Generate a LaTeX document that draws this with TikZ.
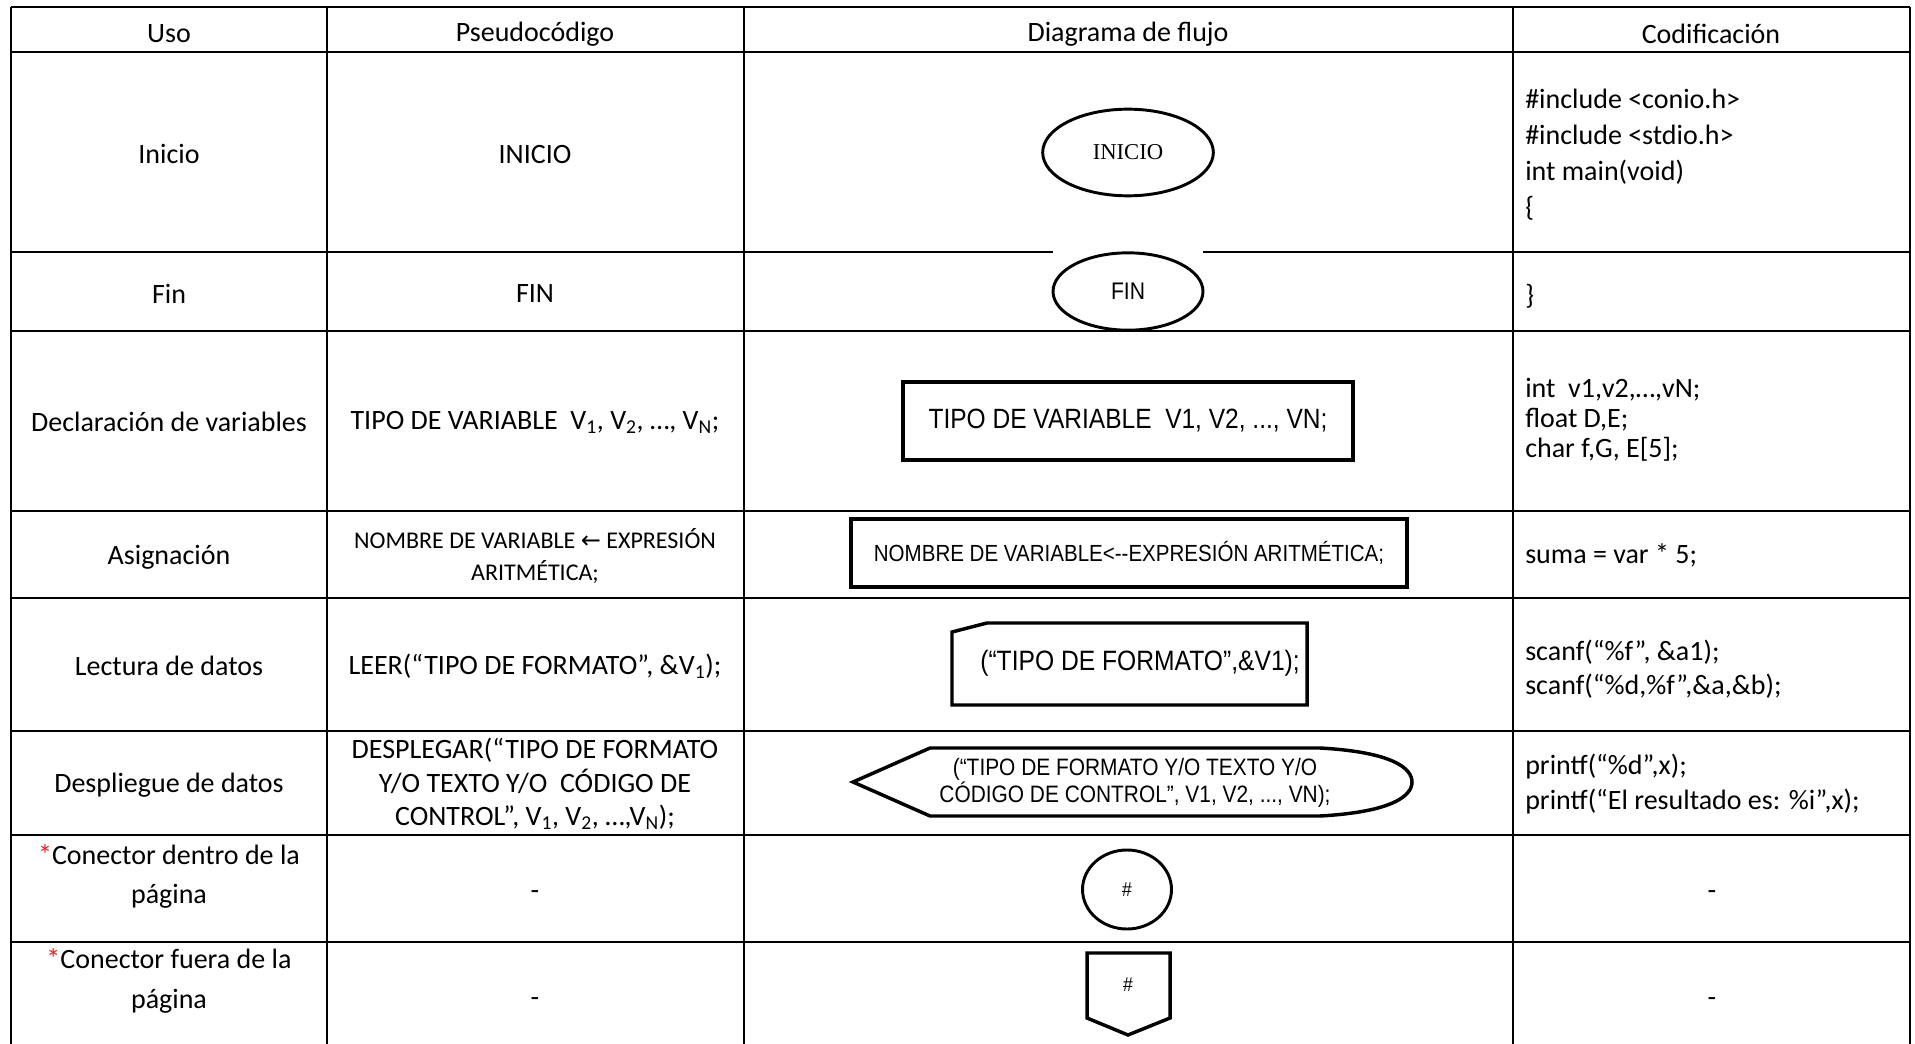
\documentclass[tikz,border=0pt]{standalone}
\usepackage{fontspec}
\setmainfont{Carlito}
\newfontfamily\flowfont[FakeStretch=0.88]{Liberation Sans}
\newfontfamily\flowserif{Liberation Serif}
\newfontfamily\arrowfont{DejaVu Sans}
\usetikzlibrary{shapes, positioning}
\definecolor{astred}{rgb}{0.95, 0.1, 0.1}

\begin{document}
\begin{tikzpicture}[x=0.75pt, y=-0.75pt,
        grid/.style={line width=1.9pt},
        cell/.style={font=\fontsize{21}{#1}\selectfont, align=center, inner sep=0pt},
        cell/.default=25,
        code/.style={cell=#1, align=left, anchor=west},
        code/.default=25,
        flowline/.style={draw, line width=2.6pt},
        flowtxt/.style={align=center, inner sep=0pt}]
    \useasboundingbox (0,0) rectangle (1915,1044);
    % table grid
    \foreach \y in {7, 52, 331, 511, 598, 731, 835, 942}
        \draw[grid] (11,\y) -- (1910,\y);
    \draw[grid] (11,252) -- (1053,252);
    \draw[grid] (1203,252) -- (1910,252);
    \foreach \x in {11, 327, 744, 1513, 1910}
        \draw[grid] (\x,7) -- (\x,1044);

    % header
    \node[cell] (uso) at (169,34) {Uso};
    \node[cell] (pseudo) at (535,34) {Pseudocódigo};
    \node[cell] (diagrama) at (1128,34) {Diagrama de flujo};
    \node[cell] (codif) at (1711,34) {Codificación};

    % column: uso
    \node[cell] (uIni) at (169,154) {Inicio};
    \node[cell] (uFin) at (169,294) {Fin};
    \node[cell] (uDecl) at (169,422) {Declaración de variables};
    \node[cell] (uAsig) at (169,557) {Asignación};
    \node[cell] (uLect) at (169,666) {Lectura de datos};
    \node[cell] (uDesp) at (169,785) {Despliegue de datos};
    \node[cell=29.25] (uConIn) at (169,876) {\textcolor{astred}{*}Conector dentro de la\\página};
    \node[cell=30] (uConOut) at (169,981) {\textcolor{astred}{*}Conector fuera de la\\página};

    % column: pseudocodigo
    \node[cell] (pIni) at (535,155) {INICIO};
    \node[cell] (pFin) at (535,294) {FIN};
    \node[cell] (pDecl) at (535,422) {TIPO DE VARIABLE\ \ V\textsubscript{1}, V\textsubscript{2}, …, V\textsubscript{N};};
    \node[cell, font=\fontsize{18}{23.5}\selectfont] (pAsig) at (535,556) {NOMBRE DE VARIABLE {\arrowfont ←} EXPRESIÓN\\ARITMÉTICA;};
    \node[cell] (pLect) at (535,666) {LEER(“TIPO DE FORMATO”, \&V\textsubscript{1});};
    \node[cell=25.1] (pDesp) at (535,784) {DESPLEGAR(“TIPO DE FORMATO\\Y/O TEXTO Y/O\ \ CÓDIGO DE\\CONTROL”, V\textsubscript{1}, V\textsubscript{2}, …,V\textsubscript{N});};
    \node[cell] (pConIn) at (535,895) {-};
    \node[cell] (pConOut) at (535,1002) {-};

    % column: diagrama de flujo
    \node[ellipse, flowline, line width=2.2pt, minimum width=128pt, minimum height=65pt,
        font=\flowserif\fontsize{17}{18}\selectfont] (fIni) at (1128,152.5) {INICIO};
    \node[ellipse, flowline, line width=2.2pt, minimum width=112.5pt, minimum height=58pt,
        font=\flowfont\fontsize{18}{20}\selectfont] (fFin) at (1128,291.5) {FIN};
    \node[rectangle, flowline, minimum width=337.5pt, minimum height=58.5pt,
        font=\flowfont\fontsize{20.9}{23}\selectfont] (fDecl) at (1128,421) {TIPO DE VARIABLE\ \ V1, V2, ..., VN;};
    \node[rectangle, flowline, minimum width=417pt, minimum height=51pt,
        font=\flowfont\fontsize{17.5}{19}\selectfont] (fAsig) at (1129,553) {NOMBRE DE VARIABLE<-\kern0pt-EXPRESIÓN ARITMÉTICA;};
    \draw[flowline] (952,632) -- (987,623) -- (1307,623) -- (1307,705) -- (952,705) -- cycle;
    \node[flowtxt, font=\flowfont\fontsize{21}{23}\selectfont] (fLect) at (1140,663) {(“TIPO DE FORMATO”,\&V1);};
    \draw[flowline] (853,782) -- (930,748) -- (1320,748)
        .. controls (1392,752) and (1412,768) .. (1412,782)
        .. controls (1412,796) and (1392,812) .. (1320,816) -- (930,816) -- cycle;
    \node[flowtxt, font=\flowfont\fontsize{17.8}{20.25}\selectfont] (fDesp) at (1135,783) {(“TIPO DE FORMATO Y/O TEXTO Y/O\\CÓDIGO DE CONTROL”, V1, V2, ..., VN);};
    \node[ellipse, flowline, line width=2.2pt, minimum width=66.75pt, minimum height=59.25pt, inner sep=0pt,
        font=\flowfont\fontsize{15}{17}\selectfont] (fConIn) at (1127,889.5) {\#};
    \draw[flowline] (1087,953) -- (1170,953) -- (1170,1018) -- (1128,1035) -- (1087,1018) -- cycle;
    \node[flowtxt, font=\flowfont\fontsize{15}{17}\selectfont] (fConOut) at (1128,985) {\#};

    % column: codificacion
    \node[code=27] (cIni) at (1525,155) {\#include <conio.h>\\\#include <stdio.h>\\int main(void)\\\{};
    \node[code] (cFin) at (1525,296) {\}};
    \node[code=22.5] (cDecl) at (1525,420) {int\ \ v1,v2,…,vN;\\float D,E;\\char f,G, E[5];};
    \node[code] (cAsig) at (1525,555) {suma = var * 5;};
    \node[code=25.5] (cLect) at (1525,669) {scanf(“\%f”, \&a1);\\scanf(“\%d,\%f”,\&a,\&b);};
    \node[code=26.25] (cDesp) at (1525,784.5) {printf(“\%d”,x);\\printf(“El resultado es: \%i”,x);};
    \node[cell] (cConIn) at (1712,895) {-};
    \node[cell] (cConOut) at (1712,1002) {-};
\end{tikzpicture}
\end{document}
